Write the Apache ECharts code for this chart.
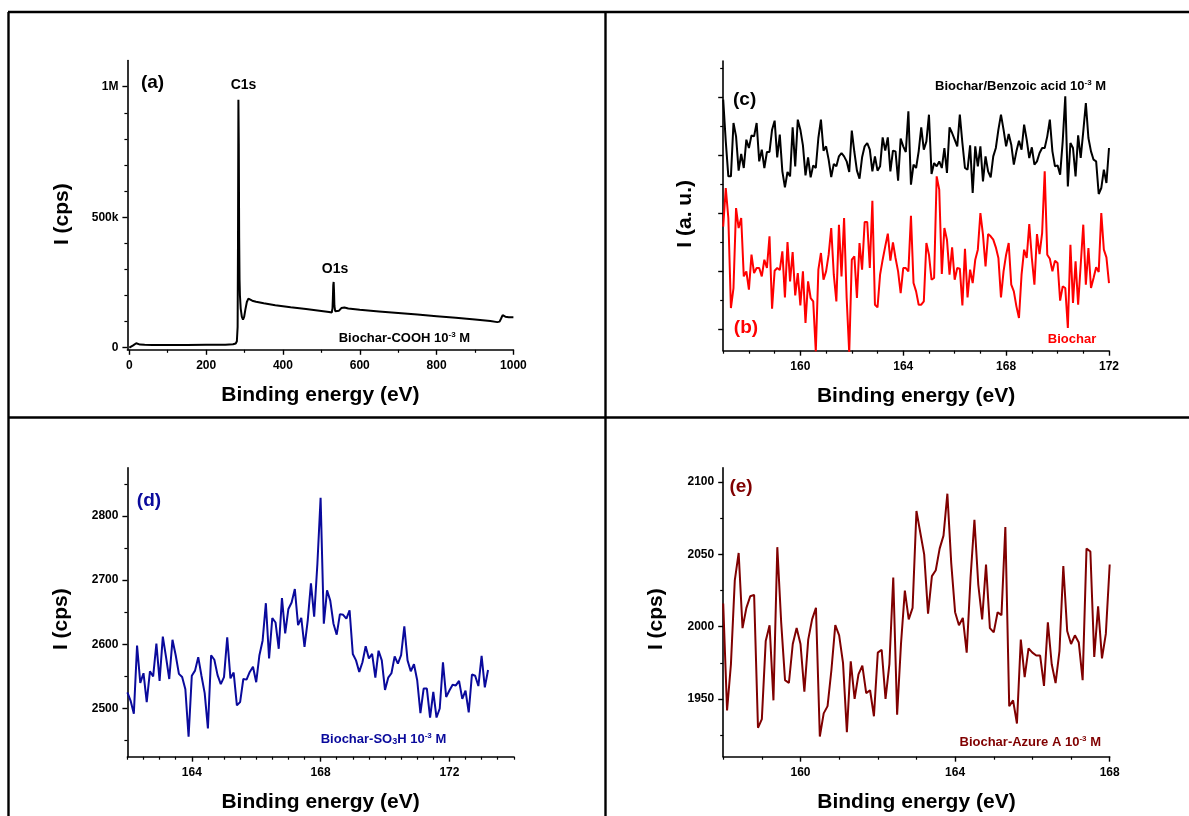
<!DOCTYPE html>
<html><head><meta charset="utf-8">
<script src="https://cdn.jsdelivr.net/npm/echarts@6/dist/echarts.min.js"></script>
<style>html,body{margin:0;padding:0;background:#fff}#c{width:1189px;height:816px}</style>
</head><body><div id="c"></div>
<script>
// ---------- data ----------
// (a) survey spectrum, Biochar-COOH
const aEnergy = [0,5,10,15,18,22,28,40,60,100,150,200,250,270,277,280,282,283,284,285,286,287,288,290,293,296,299,302,306,310,315,320,330,350,380,420,460,500,520,527,529,530,531,532,533,534,536,540,546,552,556,560,570,600,650,700,750,800,850,900,940,958,964,968,972,975,979,983,988,993,1000];
const aCounts = [0,4000,9000,15000,17000,14000,12000,11000,10500,10000,10000,11000,11500,13000,16000,25000,80000,420000,950000,780000,420000,260000,200000,150000,118000,108000,118000,145000,175000,188000,185000,180000,176000,170000,163000,155000,148000,141000,137000,135000,150000,190000,240000,252000,215000,160000,140000,137000,142000,152000,157000,154000,150000,145000,139000,133000,127000,121000,115000,108000,102000,98000,100000,112000,125000,128000,119000,113000,117000,118000,117000];

// (b)/(c) S2p region, arbitrary units, 157.0 eV + 0.1 eV steps
const cStart = 157.0, cStep = 0.1;
const cBenzoic = [775,650,545,545,705,665,562,612,570,655,
 630,668,665,705,590,625,570,618,618,685,
 712,602,670,560,512,558,545,692,575,715,
 685,638,548,602,542,578,570,660,715,622,
 635,595,543,582,575,605,615,605,590,558,
 682,618,562,538,602,635,645,625,560,605,
 562,575,662,622,662,560,622,620,532,658,
 635,618,740,520,580,
 570,620,692,625,650,730,552,585,575,590,
 570,630,555,692,675,655,635,730,645,570,
 565,638,495,635,575,635,530,605,560,542,
 605,630,685,730,685,635,672,640,580,620,
 652,625,700,655,600,632,580,590,615,630,
 630,665,715,620,575,578,550,650,785,515,
 645,630,545,668,600,680,765,660,620,595,
 590,492,510,565,525,630];
const bBiochar = [394,510,420,150,210,450,390,420,245,260,
 205,310,255,270,270,245,295,270,365,148,
 262,270,264,320,182,348,230,318,188,255,
 158,260,105,230,180,170,20,265,315,235,
 260,310,390,250,170,400,245,420,180,15,
 295,305,180,345,265,408,408,270,472,160,
 152,250,295,335,373,292,347,300,260,195,
 270,270,260,427,225,
 200,160,160,170,345,310,235,240,545,505,
 252,390,355,250,332,235,270,268,158,328,
 182,265,225,295,325,435,370,275,372,365,
 355,332,300,182,260,310,345,220,200,155,
 120,250,325,300,402,300,220,372,312,375,
 560,310,298,260,292,285,172,215,210,90,
 340,165,290,160,280,400,220,330,210,240,
 272,258,435,325,302,225];

// (d) Biochar-SO3H, cps, 162.0 eV + 0.1 eV steps
const dStart = 162.0, dStep = 0.1;
const dSO3H = [2525,2512,2492,2598,2540,2555,2510,2558,2550,2601,
 2543,2612,2580,2546,2607,2583,2554,2549,2530,2456,
 2551,2559,2580,2551,2524,2469,2583,2576,2552,2538,
 2549,2611,2547,2556,2505,2510,2546,2545,2557,2565,
 2541,2583,2606,2664,2578,2641,2634,2593,2672,2617,
 2655,2665,2686,2630,2641,2596,2637,2695,2643,2725,
 2828,2632,2684,2668,2632,2615,2647,2646,2640,2653,
 2585,2575,2557,2572,2597,2578,2585,2548,2590,2575,
 2529,2548,2555,2581,2570,2583,2628,2575,2558,2569,
 2544,2493,2531,2531,2486,2526,2486,2500,2572,2518,
 2528,2537,2536,2543,2515,2528,2494,2553,2551,2535,
 2582,2533,2560];

// (e) Biochar-Azure A, cps, 158.0 eV + 0.1 eV steps
const eStart = 158.0, eStep = 0.1;
const eAzure = [2016,1942,1974,2032,2051,1999,2013,2021,2022,1930,
 1936,1990,2001,1949,2055,2003,1963,1961,1988,1999,
 1988,1955,1991,2005,2013,1924,1940,1945,1970,2001,
 1994,1975,1927,1976,1950,1967,1973,1954,1956,1938,
 1982,1984,1950,1974,2034,1939,1988,2025,2005,2013,
 2080,2065,2050,2009,2035,2039,2054,2063,2092,2044,
 2010,2001,2006,1982,2034,2074,2029,2005,2043,1999,
 1996,2010,2008,2069,1945,1949,1933,1991,1965,1985,
 1982,1980,1980,1959,2003,1974,1961,1983,2042,1997,
 1988,1994,1989,1963,2054,2052,1979,2014,1978,1995,
 2043];

// ---------- ticks ----------
const aXMajor = [0,200,400,600,800,1000], aXMinor = [100,300,500,700,900];
const aYMajor = [0,500000,1000000], aYLabels = ['0','500k','1M'];
const aYMinor = [100000,200000,300000,400000,600000,700000,800000,900000];
const cXMajor = [160,164,168,172], cXMinor = [157,158,159,161,162,163,165,166,167,169,170,171];
const cYMajor = [87,261,435,609,783], cYMinor = [174,348,522,696,870];
const dXMajor = [164,168,172];
const dXMinor = [162,162.5,163,163.5,164.5,165,165.5,166,166.5,167,167.5,168.5,169,169.5,170,170.5,171,171.5,172.5,173,173.5,174];
const dYMajor = [2500,2600,2700,2800], dYMinor = [2450,2550,2650,2750,2850];
const eXMajor = [160,164,168], eXMinor = [158,159,161,162,163,165,166,167];
const eYMajor = [1950,2000,2050,2100], eYMinor = [1925,1975,2025,2075];

// ---------- build ----------
const FONT = '"Liberation Sans", Arial, sans-serif';
const NAVY = '#0a0a9c', WINE = '#800000', RED = '#ff0000';

const grids = [
  {left:127.4, top:60.6, width:386, height:289.2},
  {left:723.2, top:61, width:385.8, height:289.7},
  {left:127.4, top:467.7, width:386.4, height:289},
  {left:723.2, top:467.7, width:386.5, height:289}
];

function axisPair(dim, gi, min, max, majors, minors, opt) {
  const pos = dim === 'x' ? 'bottom' : 'left';
  const main = {
    type:'value', gridIndex:gi, min, max, position:pos,
    axisLine:{show:true, onZero:false, lineStyle:{color:'#000', width:1.6}},
    axisTick:{show:true, customValues:majors, length:5, lineStyle:{color:'#000', width:1.4}},
    axisLabel:{show: opt.labels !== false, customValues:majors, formatter: opt.fmt || (v => String(v)),
      fontFamily:FONT, fontWeight:'bold', fontSize:12, color:'#000', margin: dim==='x'?10:9},
    splitLine:{show:false},
    name: opt.name || '', nameLocation:'middle', nameGap: opt.gap,
    nameTextStyle:{fontFamily:FONT, fontWeight:'bold', fontSize:21, color:'#000', padding: opt.pad || 0}
  };
  const minor = {
    type:'value', gridIndex:gi, min, max, position:pos,
    axisLine:{show:false, onZero:false},
    axisTick:{show:true, customValues:minors, length:3, lineStyle:{color:'#000', width:1.2}},
    axisLabel:{show:false}, splitLine:{show:false}
  };
  return [main, minor];
}

const xAxes = [].concat(
  axisPair('x',0,-5,1000,aXMajor,aXMinor,{name:'Binding energy (eV)', gap:35}),
  axisPair('x',1,157,172,cXMajor,cXMinor,{name:'Binding energy (eV)', gap:35}),
  axisPair('x',2,162,174,dXMajor,dXMinor,{name:'Binding energy (eV)', gap:35}),
  axisPair('x',3,158,168,eXMajor,eXMinor,{name:'Binding energy (eV)', gap:35})
);
const yAxes = [].concat(
  axisPair('y',0,-8000,1100000,aYMajor,aYMinor,{name:'I (cps)', gap:55, pad:[0,18,0,0],
    fmt: v => aYLabels[aYMajor.indexOf(v)]}),
  axisPair('y',1,22,891,cYMajor,cYMinor,{name:'I (a. u.)', gap:27, pad:[0,16,0,0], labels:false}),
  axisPair('y',2,2425,2875,dYMajor,dYMinor,{name:'I (cps)', gap:56, pad:[0,14,0,0]}),
  axisPair('y',3,1910,2110,eYMajor,eYMinor,{name:'I (cps)', gap:56, pad:[0,14,0,0]})
);

function seq(start, step, vals) { return vals.map((v,i) => [+(start + i*step).toFixed(2), v]); }
function line(gi, data, color) {
  return {type:'line', xAxisIndex:2*gi, yAxisIndex:2*gi, data, showSymbol:false, symbol:'none',
    lineStyle:{color, width:2}, silent:true, animation:false, z:3};
}

const series = [
  line(0, aEnergy.map((e,i)=>[e, aCounts[i]]), '#000'),
  line(1, seq(cStart,cStep,bBiochar), RED),
  line(1, seq(cStart,cStep,cBenzoic), '#000'),
  line(2, seq(dStart,dStep,dSO3H), NAVY),
  line(3, seq(eStart,eStep,eAzure), WINE)
];

function T(x, y, text, size, color, align) {
  return {type:'text', x, y, z:10, style:{text, fontFamily:FONT, fontWeight:'bold', fontSize:size,
    fill:color, align: align || 'center', verticalAlign:'middle'}};
}
function R(x, y, text, color) {
  const m = {fontFamily:FONT, fontWeight:'bold', fontSize:13, fill:color, lineHeight:15};
  return {type:'text', x, y, z:10, style:{text, align:'left', verticalAlign:'middle',
    rich:{m, s:{fontFamily:FONT, fontWeight:'bold', fontSize:8, fill:color, verticalAlign:'top'},
          b:{fontFamily:FONT, fontWeight:'bold', fontSize:9, fill:color, verticalAlign:'bottom'}}}};
}
function L(x1,y1,x2,y2){ return {type:'line', z:20, shape:{x1,y1,x2,y2}, style:{stroke:'#000', lineWidth:2.4}}; }

const graphic = [
  L(8,12,1189,12), L(8.5,12,8.5,816), L(605.5,12,605.5,816), L(8,417.5,1189,417.5),
  T(152.5,82.3,'(a)',19,'#000'),
  T(243.5,85.3,'C1s',14,'#000'),
  T(335,269.5,'O1s',14,'#000'),
  R(338.7,338.5,'{m|Biochar-COOH 10}{s|-3}{m| M}','#000'),
  T(744.6,100,'(c)',19,'#000'),
  T(746,327.5,'(b)',19,RED),
  R(935,86,'{m|Biochar/Benzoic acid 10}{s|-3}{m| M}','#000'),
  R(1047.8,339.5,'{m|Biochar}',RED),
  T(149,501,'(d)',19,NAVY),
  R(320.7,739,'{m|Biochar-SO}{b|3}{m|H 10}{s|-3}{m| M}',NAVY),
  T(741,487,'(e)',19,WINE),
  R(959.5,742,'{m|Biochar-Azure A 10}{s|-3}{m| M}',WINE)
];

const chart = echarts.init(document.getElementById('c'), null, {renderer:'canvas'});
chart.setOption({
  backgroundColor:'#fff', animation:false,
  grid: grids.map(g => Object.assign({containLabel:false}, g)),
  xAxis: xAxes, yAxis: yAxes, series, graphic,
  tooltip:{show:false}
});
</script></body></html>
